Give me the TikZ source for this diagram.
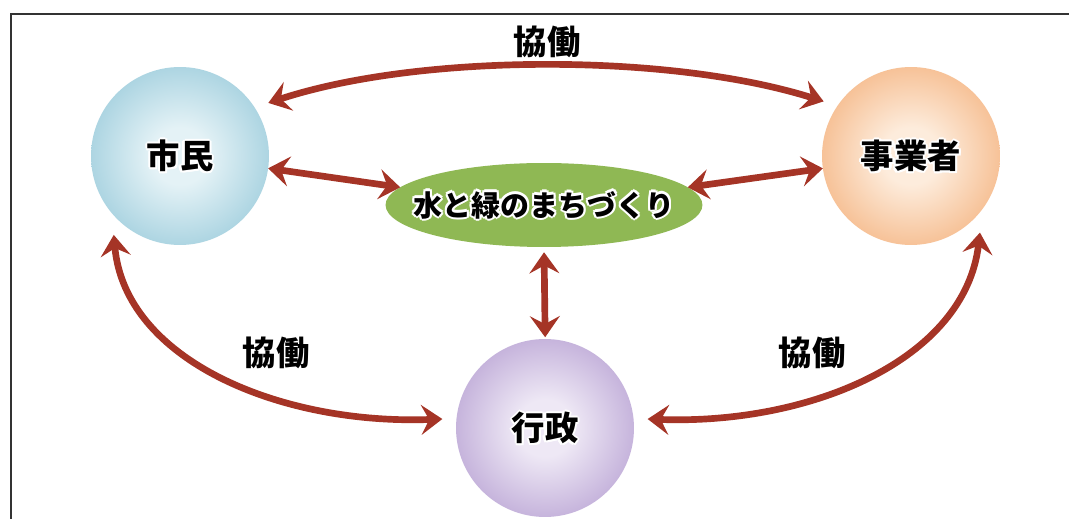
\documentclass[tikz,border=0pt]{standalone}
\usepackage{fontspec}
\newfontfamily\jpfont{Noto Sans CJK JP}
\usetikzlibrary{arrows.meta,shapes.geometric}

\definecolor{yajirushi}{RGB}{165,52,38}
\definecolor{midori}{RGB}{143,184,84}
\definecolor{shiminin}{RGB}{228,242,246}
\definecolor{shiminout}{RGB}{118,184,206}
\definecolor{jigyoin}{RGB}{253,236,220}
\definecolor{jigyoout}{RGB}{240,152,84}
\definecolor{gyoseiin}{RGB}{238,232,245}
\definecolor{gyoseiout}{RGB}{158,128,195}

\pgfdeclareradialshading{shiminball}{\pgfpoint{0bp}{0bp}}{color(0bp)=(shiminin); color(8bp)=(shiminin); color(42bp)=(shiminout); color(50bp)=(shiminout!15!white)}
\pgfdeclareradialshading{jigyoball}{\pgfpoint{0bp}{0bp}}{color(0bp)=(jigyoin); color(8bp)=(jigyoin); color(42bp)=(jigyoout); color(50bp)=(jigyoout!15!white)}
\pgfdeclareradialshading{gyoseiball}{\pgfpoint{0bp}{0bp}}{color(0bp)=(gyoseiin); color(8bp)=(gyoseiin); color(42bp)=(gyoseiout); color(50bp)=(gyoseiout!15!white)}

% 白いふち取り
\newcommand\haloat[3]{\rlap{\hspace{#1}\raisebox{#2}{#3}}}
\newcommand\halo[1]{\leavevmode\rlap{\color{white}%
  \haloat{1.3pt}{0pt}{#1}\haloat{-1.3pt}{0pt}{#1}\haloat{0pt}{1.3pt}{#1}\haloat{0pt}{-1.3pt}{#1}%
  \haloat{.9pt}{.9pt}{#1}\haloat{-.9pt}{.9pt}{#1}\haloat{.9pt}{-.9pt}{#1}\haloat{-.9pt}{-.9pt}{#1}}#1}

\tikzset{
  ball/.style={circle, minimum size=3.56cm, inner sep=0pt, outer sep=8pt, shade, shading=#1,
    font=\jpfont\bfseries\fontsize{19}{22}\selectfont},
  duo/.style={draw=yajirushi, line width=3.8pt,
    {Stealth[length=12pt, width=17pt, inset=4.5pt]}-{Stealth[length=12pt, width=17pt, inset=4.5pt]}},
  kyodo/.style={font=\jpfont\bfseries\fontsize{19}{22}\selectfont}
}

\begin{document}
\begin{tikzpicture}[x=0.02cm, y=-0.02cm]
  \useasboundingbox (0,0) rectangle (1069,519);
  \fill[white] (0,0) rectangle (1069,519);

  % 枠
  \draw[line width=1.2pt, black!80] (11,519) -- (11,14) -- (1069,14);

  % 円
  \node[ball=shiminball] (citizen) at (180,156) {\halo{市民}};
  \node[ball=jigyoball] (business) at (911,156) {\halo{事業者}};
  \node[ball=gyoseiball] (admin) at (545,428) {\halo{行政}};

  % まん中
  \node[ellipse, fill=midori, minimum width=6.34cm, minimum height=1.68cm, inner sep=0pt, outer sep=0pt,
    font=\jpfont\bfseries\fontsize{16.5}{19}\selectfont] (vision) at (544,205) {\makebox[0pt]{\halo{水と緑のまちづくり}}};

  % 矢印
  \draw[duo] (citizen.31) .. controls (420,53) and (670,53) .. (business.148);
  \draw[duo, shorten <=-8pt] (citizen.-8) -- (vision.173);
  \draw[duo, shorten >=-8pt] (vision.7) -- (business.188);
  \draw[duo, shorten <=3pt, shorten >=-7pt] (vision.south) -- (admin.north);
  \draw[duo] (citizen.230) .. controls (125,360) and (280,425) .. (admin.175);
  \draw[duo] (business.-48) .. controls (965,360) and (810,425) .. (admin.5);

  % 協働
  \node[kyodo] (topword) at (547,42) {\halo{協働}};
  \node[kyodo] (leftword) at (276,353) {\halo{協働}};
  \node[kyodo] (rightword) at (812,353) {\halo{協働}};
\end{tikzpicture}
\end{document}
